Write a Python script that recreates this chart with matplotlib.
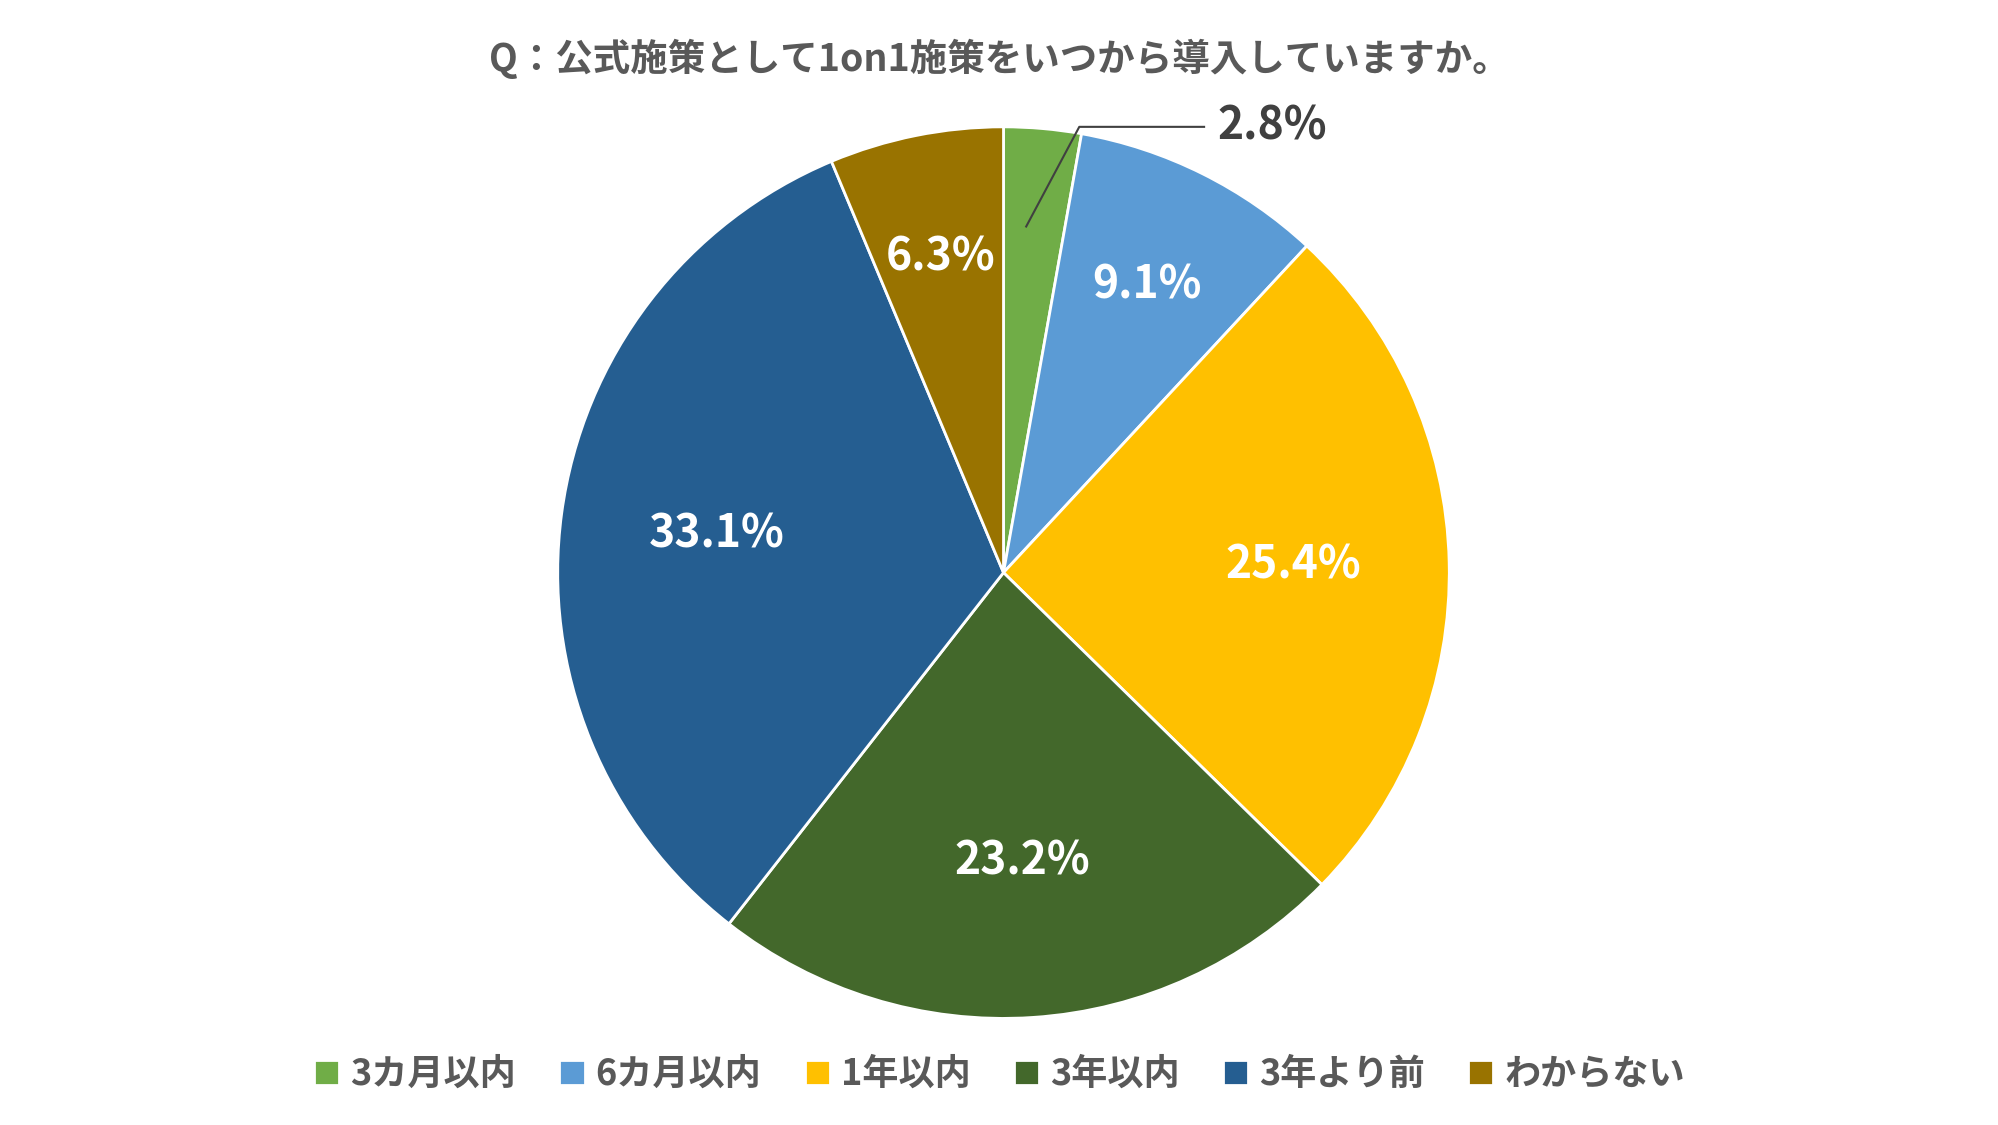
import matplotlib.pyplot as plt
import numpy as np

plt.rcParams['font.family'] = ['Noto Sans CJK JP', 'DejaVu Sans']

categories = ["3カ月以内", "6カ月以内", "1年以内", "3年以内", "3年より前", "わからない"]
values = [2.8, 9.1, 25.4, 23.2, 33.1, 6.3]
colors = ["#70AD47", "#5B9BD5", "#FFC000", "#43682B", "#255E91", "#997300"]
title = "Q：公式施策として1on1施策をいつから導入していますか。"

fig = plt.figure(figsize=(19.99, 11.25), dpi=100)
ax = fig.add_axes([0.279, 0.0945, 0.446, 0.793])

wedges, _ = ax.pie(values, colors=colors, startangle=90, counterclock=False,
                   wedgeprops=dict(edgecolor='white', linewidth=2))
ax.set_xlim(-1, 1)
ax.set_ylim(-1, 1)
ax.set_aspect('equal')

for w, v in zip(wedges, values):
    ang = np.deg2rad((w.theta1 + w.theta2) / 2)
    if v < 5:
        x0, y0 = 0.92 * np.cos(ang), 0.92 * np.sin(ang)
        ax.plot([x0 - 0.03, 0.17, 0.45], [y0 - 0.14, 1.0, 1.0], color='#404040', lw=1.5, clip_on=False)
        ax.text(0.48, 1.0, f"{v}%", ha='left', va='center', fontsize=32, fontweight='bold',
                color='#404040')
    else:
        r = 0.65 if v > 20 else 0.72
        ax.text(r * np.cos(ang), r * np.sin(ang), f"{v}%", ha='center', va='center',
                fontsize=32, fontweight='bold', color='white')

fig.text(0.5, 0.948, title, ha='center', va='center', fontsize=27, fontweight='bold', color='#595959')
fig.legend(wedges, categories, loc='center', bbox_to_anchor=(0.5, 0.045), ncol=6, frameon=False,
           fontsize=26, handlelength=0.7, handleheight=0.7, handletextpad=0.3, columnspacing=1.2,
           labelcolor='#595959', prop=dict(weight='bold', size=26))

fig.savefig("out.png", dpi=100, facecolor='white')
